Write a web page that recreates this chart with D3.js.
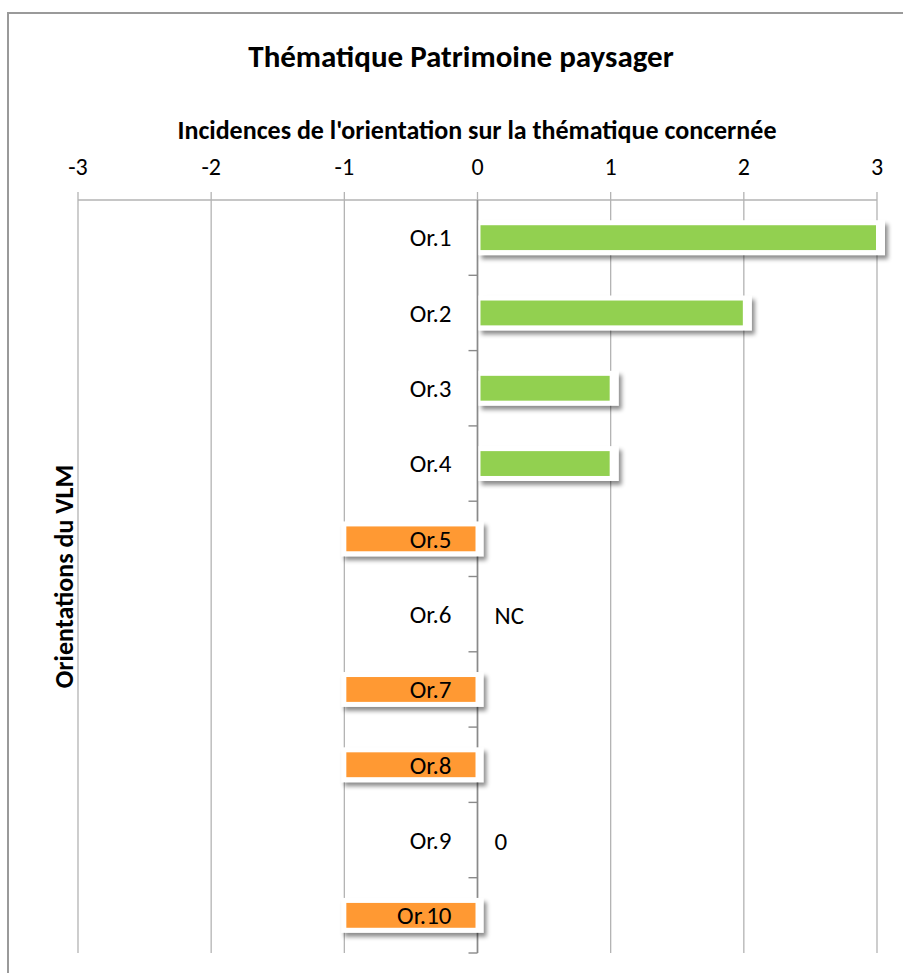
<!DOCTYPE html>
<html lang="fr">
<head>
<meta charset="UTF-8">
<title>Thématique Patrimoine paysager</title>
<style>
    body {
        margin: 0;
        background: white;
    }

    svg {
        display: block;
        font-family: Carlito, Calibri, "Open Sans", sans-serif;
    }

    .grid line {
        stroke: #b3b3b3;
        stroke-width: 1.3;
    }

    .tick-label {
        font-size: 24px;
        fill: #000;
        text-anchor: middle;
    }

    .cat-label {
        font-size: 25px;
        text-anchor: end;
    }
</style>
</head>
<body>
<svg class="chart"></svg>
<script src="https://cdn.jsdelivr.net/npm/d3@7"></script>
<script>

const categories = ["Or.1", "Or.2", "Or.3", "Or.4", "Or.5", "Or.6", "Or.7", "Or.8", "Or.9", "Or.10"];
// null = not concerned (NC)
const values = [3, 2, 1, 1, -1, null, -1, -1, 0, -1];
const valueLabels = ["", "", "", "", "", "NC", "", "", "0", ""];
const ticks = [-3, -2, -1, 0, 1, 2, 3];

const width = 903, height = 973;
const plot = { left: 78, right: 877, top: 200, bottom: 953 };

const svg = d3.select("svg")
    .attr("width", width)
    .attr("height", height);

const defs = svg.append("defs");
defs.append("filter")
    .attr("id", "shadow")
    .attr("x", "-10%").attr("y", "-50%")
    .attr("width", "130%").attr("height", "220%")
    .append("feDropShadow")
    .attr("dx", 3)
    .attr("dy", 4)
    .attr("stdDeviation", 2.2)
    .attr("flood-color", "#000")
    .attr("flood-opacity", 0.45);

// outer chart frame (only top and left visible)
svg.append("path")
    .attr("d", `M8,${height} V13 H${width}`)
    .attr("fill", "none")
    .attr("stroke", "#9a9a9a")
    .attr("stroke-width", 2);

const x = d3.scaleLinear()
    .domain([-3, 3])
    .range([plot.left, plot.right]);

const y = d3.scaleBand()
    .domain(categories)
    .range([plot.top, plot.bottom])
    .paddingInner(0.67)
    .paddingOuter(0.335);

const data = categories.map((c, i) => ({ name: c, value: values[i], label: valueLabels[i] }));

// titles
svg.append("text")
    .attr("x", 461)
    .attr("y", 67)
    .attr("text-anchor", "middle")
    .attr("font-size", 31)
    .attr("font-weight", "bold")
    .text("Thématique Patrimoine paysager");

svg.append("text")
    .attr("x", 477)
    .attr("y", 139)
    .attr("text-anchor", "middle")
    .attr("font-size", 26)
    .attr("font-weight", "bold")
    .text("Incidences de l'orientation sur la thématique concernée");

svg.append("text")
    .attr("transform", `translate(73, ${(plot.top + plot.bottom) / 2}) rotate(-90)`)
    .attr("text-anchor", "middle")
    .attr("font-size", 26)
    .attr("font-weight", "bold")
    .text("Orientations du VLM");

// vertical gridlines + top axis
const grid = svg.append("g").attr("class", "grid");
grid.selectAll("line.v")
    .data(ticks)
    .join("line")
    .attr("class", "v")
    .attr("x1", d => x(d)).attr("x2", d => x(d))
    .attr("y1", plot.top - 8).attr("y2", plot.bottom);

grid.append("line")
    .attr("x1", x(-3)).attr("x2", x(3))
    .attr("y1", plot.top).attr("y2", plot.top)
    .attr("stroke", "#9a9a9a");

svg.append("g")
    .selectAll("text")
    .data(ticks)
    .join("text")
    .attr("class", "tick-label")
    .attr("x", d => x(d))
    .attr("y", 175)
    .text(d => d);

// category axis at zero
const catAxis = svg.append("g");
catAxis.append("line")
    .attr("x1", x(0)).attr("x2", x(0))
    .attr("y1", plot.top).attr("y2", plot.bottom)
    .attr("stroke", "#8a8a8a")
    .attr("stroke-width", 1.6);

const step = y.step();
catAxis.selectAll("line.tk")
    .data(d3.range(1, categories.length + 1))
    .join("line")
    .attr("class", "tk")
    .attr("x1", x(0) - 9).attr("x2", x(0))
    .attr("y1", i => plot.top + i * step)
    .attr("y2", i => plot.top + i * step)
    .attr("stroke", "#8a8a8a")
    .attr("stroke-width", 1.4);

// bars
const bars = svg.append("g")
    .selectAll("g")
    .data(data.filter(d => d.value))
    .join("g");

const pad = 5;
bars.append("rect")
    .attr("x", d => Math.min(x(d.value), x(0)) - (d.value < 0 ? pad - 2 : -1))
    .attr("y", d => y(d.name) - pad)
    .attr("width", d => Math.abs(x(d.value) - x(0)) + pad + (d.value < 0 ? 4 : 2))
    .attr("height", y.bandwidth() + pad * 2)
    .attr("fill", "white")
    .attr("filter", "url(#shadow)");

bars.append("rect")
    .attr("x", d => d.value > 0 ? x(0) + 3 : x(d.value) + 2)
    .attr("y", d => y(d.name))
    .attr("width", d => Math.abs(x(d.value) - x(0)) - 4)
    .attr("height", y.bandwidth())
    .attr("fill", d => d.value > 0 ? "#92d050" : "#ff9933");

// category labels
svg.append("g")
    .selectAll("text")
    .data(data)
    .join("text")
    .attr("class", "cat-label")
    .attr("x", x(0) - 26)
    .attr("y", d => y(d.name) + y.bandwidth() / 2)
    .attr("dy", "0.35em")
    .text(d => d.name);

// value labels for non-bar rows
svg.append("g")
    .selectAll("text")
    .data(data.filter(d => d.label))
    .join("text")
    .attr("x", x(0) + 17)
    .attr("y", d => y(d.name) + y.bandwidth() / 2)
    .attr("dy", "0.4em")
    .attr("font-size", 25)
    .text(d => d.label);

</script>
</body>
</html>
